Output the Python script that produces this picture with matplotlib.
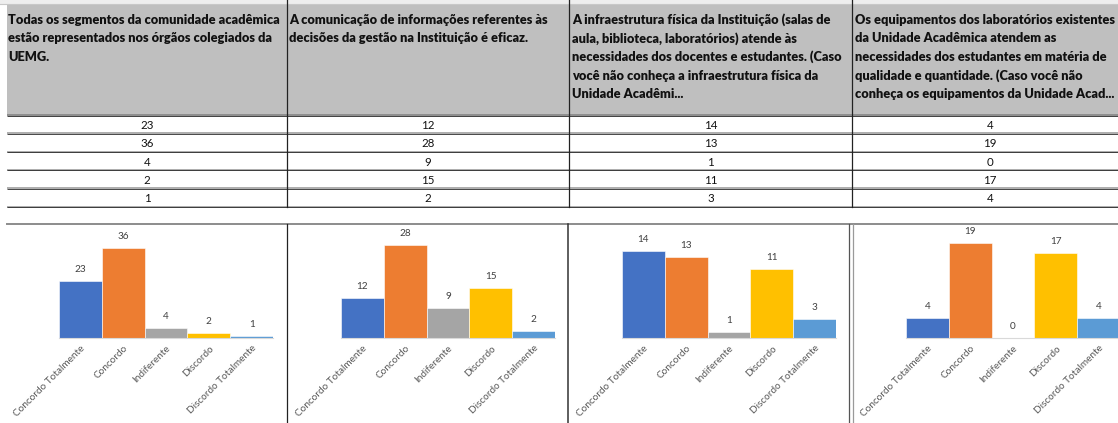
import matplotlib
matplotlib.use("Agg")
import matplotlib.pyplot as plt

# ---------------- data ----------------
questions = [
    ["Todas os segmentos da comunidade acadêmica",
     "estão representados nos órgãos colegiados da",
     "UEMG."],
    ["A comunicação de informações referentes às",
     "decisões da gestão na Instituição é eficaz."],
    ["A infraestrutura física da Instituição (salas de",
     "aula, biblioteca, laboratórios) atende às",
     "necessidades dos docentes e estudantes. (Caso",
     "você não conheça a infraestrutura física da",
     "Unidade Acadêmi..."],
    ["Os equipamentos dos laboratórios existentes",
     "da Unidade Acadêmica atendem as",
     "necessidades dos estudantes em matéria de",
     "qualidade e quantidade. (Caso você não",
     "conheça os equipamentos da Unidade Acad..."],
]
categories = ["Concordo Totalmente", "Concordo", "Indiferente", "Discordo", "Discordo Totalmente"]
q1_values = [23, 36, 4, 2, 1]
q2_values = [12, 28, 9, 15, 2]
q3_values = [14, 13, 1, 11, 3]
q4_values = [4, 19, 0, 17, 4]
series = [q1_values, q2_values, q3_values, q4_values]
axis_max = [40, 30, 16, 20]

bar_colors = ["#4472C4", "#ED7D31", "#A5A5A5", "#FFC000", "#5B9BD5"]

# ---------------- figure ----------------
W, H = 1118, 423
DPI = 100
fig = plt.figure(figsize=(W / DPI, H / DPI), dpi=DPI)
fig.patch.set_facecolor("white")

bg = fig.add_axes([0, 0, 1, 1])
bg.set_xlim(0, W)
bg.set_ylim(H, 0)
bg.axis("off")

FONT = ["Lato", "DejaVu Sans"]

# top strip (column headers, cut)
bg.add_patch(plt.Rectangle((0, 0), W, 4.5, color="#EEEEEE", lw=0))
bg.plot([0, W], [4.5, 4.5], color="#C8C8C8", lw=0.8)
# header gray cell
bg.add_patch(plt.Rectangle((7, 4.5), W - 7, 110, color="#BFBFBF", lw=0))

col_x = [7, 287, 569, 852, W]
text_x = [8, 289, 572, 855]

renderer = fig.canvas.get_renderer()
probe = bg.text(0, 0, questions[0][0], fontsize=10, fontweight="bold", family=FONT)
w = probe.get_window_extent(renderer).width
probe.remove()
hdr_size = 10 * 268 / w

for ci, lines in enumerate(questions):
    for li, line in enumerate(lines):
        bg.text(text_x[ci], 20 + li * 18.5, line, fontsize=hdr_size, fontweight="heavy",
                family=FONT, color="#111111", va="center", ha="left")

# table lines
row_lines = [115, 133.5, 152, 170, 188.5, 207]
bg.plot([7, W], [114.6, 114.6], color="#8C8C8C", lw=1.4, solid_capstyle="butt")
bg.plot([7, W], [115.8, 115.8], color="#404040", lw=0.7, solid_capstyle="butt")
for y in row_lines[1:]:
    bg.plot([7, W], [y, y], color="#A0A0A0", lw=1.2, solid_capstyle="butt")
    bg.plot([7, W], [y + 0.3, y + 0.3], color="#2A2A2A", lw=0.6, solid_capstyle="butt")
for x in col_x[1:4]:
    bg.plot([x, x], [0, 207], color="#222222", lw=0.9)

# table numbers
for ci in range(4):
    cx = (col_x[ci] + col_x[ci + 1]) / 2 if ci < 3 else (852 + 1128) / 2
    for ri, v in enumerate(series[ci]):
        yc = (row_lines[ri] + row_lines[ri + 1]) / 2 + 1
        bg.text(cx, yc, str(v), fontsize=8.3, family=FONT, color="#111111",
                ha="center", va="center")

# chart region frame lines
bg.plot([7, W], [224, 224], color="#8C8C8C", lw=1.4)
bg.plot([287, 287], [224, H], color="#222222", lw=0.9)
bg.plot([568, 568], [224, H], color="#333333", lw=1.1)
bg.plot([849, 849], [224, H], color="#555555", lw=0.9)
bg.plot([852.5, 852.5], [224, H], color="#9A9A9A", lw=0.9)

# ---------------- bar charts ----------------
plot_x = [(59, 273), (341, 555), (622, 836), (906, 1120)]
base_y, top_y = 338, 238

for pi in range(4):
    x0, x1 = plot_x[pi]
    ax = fig.add_axes([x0 / W, (H - base_y) / H, (x1 - x0) / W, (base_y - top_y) / H])
    ax.patch.set_alpha(0)
    vals = series[pi]
    xs = list(range(len(categories)))
    ax.bar(xs, vals, width=1.0, color=bar_colors, edgecolor="white", linewidth=0.4)
    ax.set_xlim(-0.5, len(categories) - 0.5)
    ax.set_ylim(0, axis_max[pi])
    for s in ["top", "right", "left"]:
        ax.spines[s].set_visible(False)
    ax.spines["bottom"].set_color("#D9D9D9")
    ax.spines["bottom"].set_linewidth(0.8)
    ax.set_yticks([])
    ax.set_xticks(xs)
    ax.set_xticklabels(categories, rotation=45, ha="right", rotation_mode="anchor",
                       fontsize=7.2, color="#595959", family=FONT)
    ax.tick_params(axis="x", length=0, pad=4)
    for xi, v in zip(xs, vals):
        ax.annotate(str(v), (xi, v), xytext=(0, 5), textcoords="offset points",
                    ha="center", va="bottom", fontsize=7.2, color="#404040", family=FONT)

fig.savefig("out.png", dpi=DPI)
